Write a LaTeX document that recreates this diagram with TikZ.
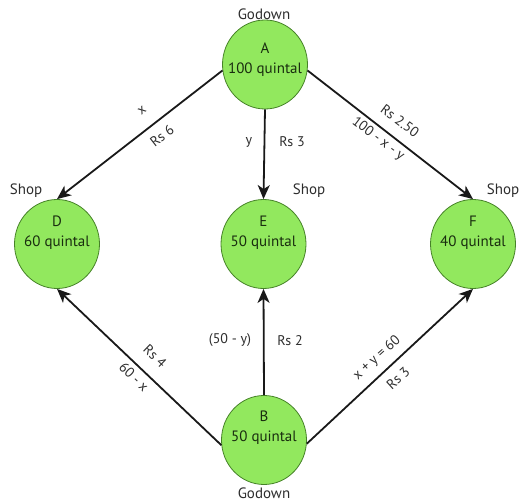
\documentclass[tikz,border=0pt]{standalone}
\usepackage{fontspec}
\setmainfont{PT Sans}
\usetikzlibrary{arrows.meta,shapes.geometric}
\definecolor{nodegreen}{RGB}{146,232,94}
\definecolor{nodeborder}{RGB}{70,130,40}
\definecolor{nodetext}{RGB}{25,45,15}
\definecolor{lbltext}{RGB}{45,45,45}
\tikzset{
  place/.style={ellipse, draw=nodeborder, line width=0.8pt, fill=nodegreen, minimum width=85pt, minimum height=89pt, inner sep=0pt},
  ntext/.style={align=center, text=nodetext, inner sep=0pt, font=\fontsize{15}{20}\selectfont},
  tag/.style={text=lbltext, font=\fontsize{15}{17}\selectfont, inner sep=0pt},
  lbl/.style={text=lbltext, font=\fontsize{14}{16}\selectfont, inner sep=0pt},
  arr/.style={line width=1.8pt, draw=black!90, -{Stealth[length=14pt,width=12pt,inset=4pt]}}
}
\begin{document}
\begin{tikzpicture}[x=1pt,y=-1pt]
\useasboundingbox (0,0) rectangle (521,502);
\node[place] (A) at (265,64.5) {};
\node[place] (D) at (57,244) {};
\node[place] (E) at (263.5,244) {};
\node[place] (F) at (473,244) {};
\node[place] (B) at (264,440) {};

\node[ntext] (At) at (265,60) {A\\100 quintal};
\node[ntext] (Dt) at (57,233) {D\\60 quintal};
\node[ntext] (Et) at (263.5,233) {E\\50 quintal};
\node[ntext] (Ft) at (473,233) {F\\40 quintal};
\node[ntext] (Bt) at (264,428) {B\\50 quintal};

\node[tag] (gA) at (264,14) {Godown};
\node[tag] (gB) at (264,493) {Godown};
\node[tag] (sD) at (26,191) {Shop};
\node[tag] (sE) at (309,191) {Shop};
\node[tag] (sF) at (503,191) {Shop};

\draw[arr] (A.188) -- (D.north);
\draw[arr] (A.south) -- (E.north);
\draw[arr] (A.-8) -- (F.north);
\draw[arr] (B.187) -- (D.south);
\draw[arr] (B.north) -- (E.south);
\draw[arr] (B.-5) -- (F.south);

\node[lbl, rotate=38] (lx) at (142,111) {x};
\node[lbl, rotate=38] (l6) at (162,136) {Rs 6};
\node[lbl] (ly) at (249,142) {y};
\node[lbl] (l3a) at (292,142) {Rs 3};
\node[lbl, rotate=-37] (l250) at (400,121) {Rs 2.50};
\node[lbl, rotate=-37] (lxy) at (378,139) {100 - x - y};
\node[lbl, rotate=-44] (l4) at (155,356) {Rs 4};
\node[lbl, rotate=-44] (l60) at (134,377) {60 - x};
\node[lbl] (l50) at (230,340) {(50 - y)};
\node[lbl] (l2) at (290,341) {Rs 2};
\node[lbl, rotate=42] (lsum) at (377,358) {x + y = 60};
\node[lbl, rotate=42] (l3b) at (398,378) {Rs 3};
\end{tikzpicture}
\end{document}
